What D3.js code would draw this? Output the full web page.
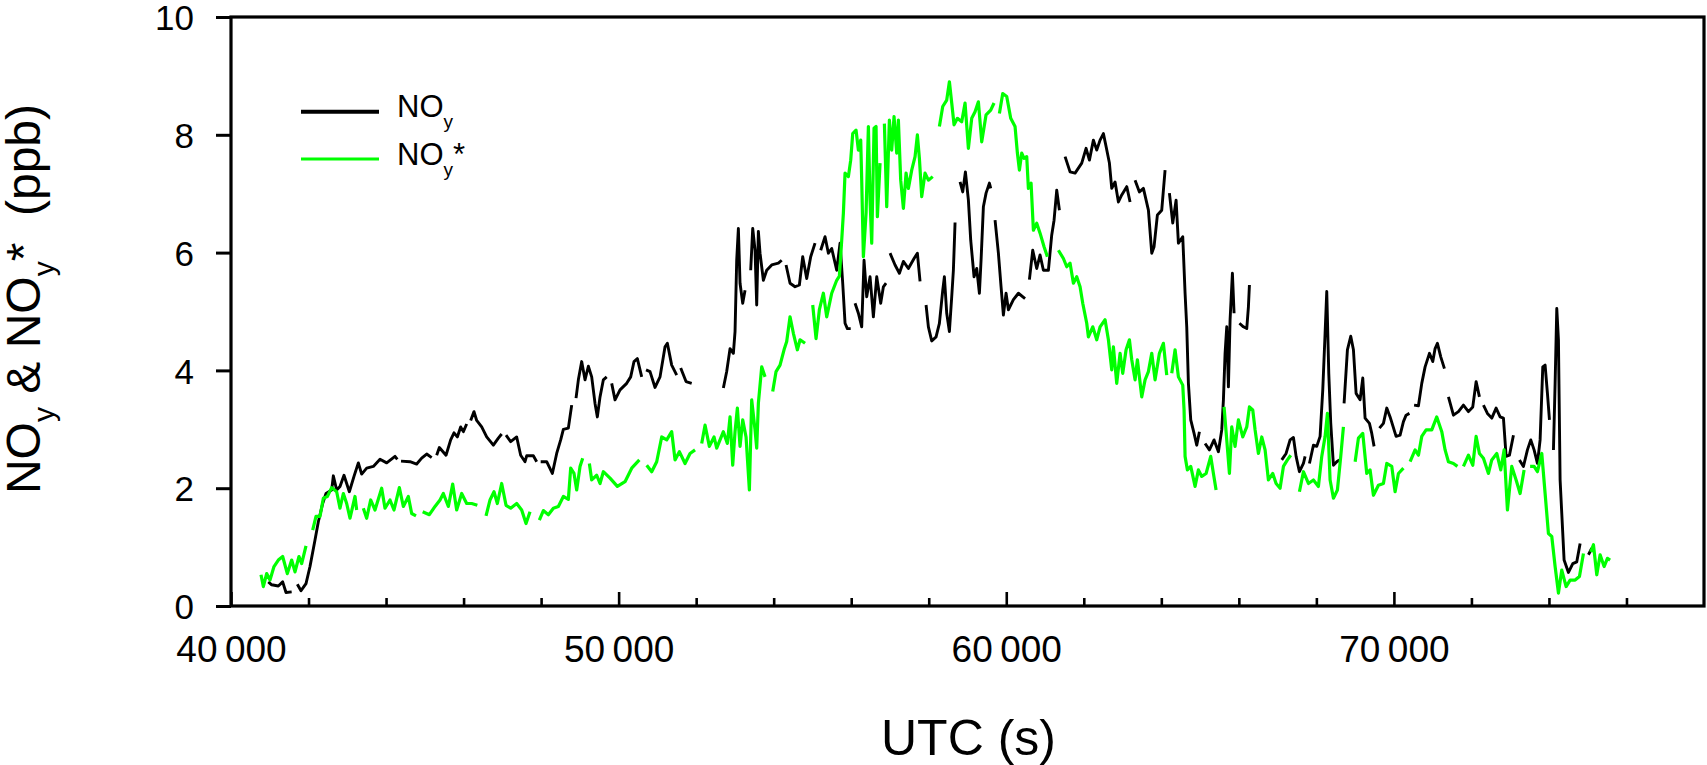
<!DOCTYPE html>
<html>
<head>
<meta charset="utf-8">
<script src="https://cdn.jsdelivr.net/npm/d3@7"></script>
<style>
body { margin: 0; background: #fff; }
text { font-family: Arial, "Liberation Sans", sans-serif; fill: #000; }
</style>
</head>
<body>
<svg id="chart" width="1707" height="765"></svg>
<script>
// NOy (black) : UTC seconds and ppb, null = gap in the record
var noyTime = [
    40963,41049,41221,41333,41419,41565,41640,
    41711,41806,41935,42038,42167,42253,42365,42451,42597,42640,42726,42812,42915,42984,43053,43173,43285,43371,43500,43672,43844,44016,44231,44291,44340,
    44386,44618,44790,44919,45048,45177,45240,
    45306,45375,45547,45667,45753,45839,45925,45994,46080,46130,
    46183,46269,46338,46467,46596,46768,46897,46983,47040,
    47095,47215,47370,47473,47585,47628,47800,47886,47940,
    47989,48144,48290,48402,48505,48574,48703,48789,48845,
    48901,48961,49047,49133,49219,49305,49391,49451,49520,49606,49692,49760,
    49821,49907,50036,50208,50311,50397,50483,50595,50650,
    50707,50810,50939,51068,51197,51257,51369,51498,51550,
    51601,51739,51885,52300,
    52702,52788,52874,52960,53003,53046,53089,53132,53201,53261,53330,
    53407,53459,53519,53562,53605,53648,53734,53820,53949,54121,54207,54260,
    54319,54422,54551,54663,54749,54852,54955,55067,55140,
    55213,55325,55411,55497,55626,55712,55781,55841,55901,55987,56040,
    56099,56185,56271,56331,56400,56486,56572,56658,56761,56830,56899,56950,
    57002,57131,57243,57346,57475,57621,57707,57776,57850,
    57931,57991,58077,58189,58275,58361,58404,58464,58533,58593,58636,58679,58740,
    58808,58877,58946,59023,59083,59169,59238,59307,59350,59410,59479,59565,59599,59650,
    59711,59797,59866,59926,59995,60055,60184,60313,60485,60540,
    60597,60683,60786,60872,60958,61087,61173,61233,61302,61371,61440,
    61517,61646,61775,61947,62059,62145,62248,62334,62420,62506,62575,62661,62721,62807,62893,62979,63108,63194,63260,
    63323,63435,63538,63667,63753,63813,63899,64011,64097,64150,
    64209,64295,64381,64441,64553,64613,64656,64699,64759,64845,64914,64983,65050,
    65129,65241,65361,65473,65559,65602,65645,65688,65731,65774,65834,65877,65950,
    66015,66118,66204,66247,66273,66700,
    67107,67219,67322,67408,67477,67563,67666,67709,67760,
    67821,67924,68010,68096,68165,68225,68268,68320,68371,68440,68526,68595,68650,
    68715,68801,68887,68956,69025,69128,69197,69257,69369,69429,69489,69560,
    69627,69730,69816,69902,70057,70160,70246,70315,70401,70460,
    70521,70633,70719,70805,70917,71003,71063,71123,71209,71304,71350,
    71407,71536,71665,71794,71923,72035,72121,72207,72260,
    72310,72413,72525,72637,72740,72826,72895,72981,73084,73160,
    73239,73342,73445,73531,73617,73703,73772,73841,73901,73961,74013,74060,
    74116,74159,74202,74245,74288,74331,74391,74503,74615,74718,74804,74900,
    75019,75105
];
var noyValue = [
    .41,.36,.34,.41,.23,.24,null,
    .37,.26,.38,.67,1.12,1.43,1.74,1.91,1.97,2.21,1.97,2.03,2.22,2.08,1.94,2.20,2.43,2.24,2.34,2.37,2.49,2.43,2.54,2.49,null,
    2.46,2.45,2.41,2.51,2.58,2.52,null,
    2.56,2.69,2.56,2.82,2.94,2.87,3.04,2.96,3.09,null,
    3.15,3.30,3.15,3.04,2.87,2.73,2.85,2.92,null,
    2.90,2.79,2.87,2.56,2.45,2.55,2.55,2.45,null,
    2.45,2.45,2.25,2.59,2.82,3.00,3.02,3.41,null,
    3.53,3.84,4.15,3.84,4.07,3.89,3.44,3.21,3.55,3.84,3.89,null,
    3.78,3.50,3.67,3.78,3.89,4.15,4.20,3.89,null,
    4.01,3.98,3.71,3.89,4.40,4.46,4.09,3.92,null,
    4.04,3.81,3.78,null,
    3.70,3.98,4.37,4.29,4.66,5.87,6.41,5.48,5.14,5.36,null,
    5.70,6.41,6.04,5.11,6.36,5.99,5.53,5.70,5.79,5.82,5.87,null,
    5.79,5.48,5.42,5.45,5.93,5.56,5.93,6.16,null,
    6.04,6.27,5.99,6.07,5.70,6.16,5.48,4.80,4.71,4.71,null,
    5.14,4.97,4.74,5.87,5.25,5.59,4.91,5.59,5.14,5.42,5.48,null,
    5.99,5.79,5.65,5.85,5.73,5.90,5.99,5.51,null,
    5.11,4.74,4.50,4.57,4.80,5.36,5.59,4.97,4.66,5.25,5.70,6.51,null,
    7.20,7.03,7.37,6.89,6.21,5.59,5.73,5.31,5.87,6.78,7.01,7.18,7.09,null,
    6.55,5.99,5.42,4.94,5.31,5.03,5.20,5.31,5.22,null,
    5.54,6.04,5.73,5.96,5.70,5.70,6.30,6.55,7.06,6.72,null,
    7.63,7.37,7.35,7.52,7.77,7.57,7.91,7.74,7.91,8.02,7.80,7.52,7.09,7.20,6.86,6.98,7.12,6.86,null,
    7.23,7.03,7.09,6.72,5.99,6.10,6.64,6.72,7.40,null,
    7.01,6.50,6.89,6.16,6.27,5.31,4.74,3.78,3.16,2.93,2.73,2.96,null,
    2.76,2.65,2.82,2.62,2.99,3.50,4.29,4.74,3.72,4.86,5.65,4.97,null,
    4.80,4.74,4.71,5.08,5.45,null,
    2.48,2.59,2.82,2.86,2.54,2.28,2.42,2.54,null,
    2.42,2.73,2.71,2.88,3.67,4.63,5.34,3.95,3.10,2.39,2.45,2.48,null,
    3.44,4.35,4.58,4.35,3.61,3.50,3.87,3.19,3.10,2.93,2.71,null,
    3.02,3.10,3.36,3.21,2.88,2.90,3.13,3.24,3.27,null,
    3.41,3.40,3.78,4.06,4.29,4.15,4.37,4.46,4.23,4.03,null,
    3.55,3.24,3.30,3.41,3.30,3.38,3.81,3.55,null,
    3.41,3.27,3.19,3.36,3.21,3.19,2.54,2.56,2.90,null,
    2.48,2.37,2.65,2.82,2.65,2.42,2.82,4.06,4.09,3.61,3.16,null,
    2.65,3.78,5.05,4.52,2.14,1.57,0.78,0.57,0.72,0.75,1.06,null,
    0.87,0.98
];

// NOy* (green)
var noyStarTime = [
    40774,40834,40920,41006,41109,41221,41333,41453,41565,41651,41754,41823,41935,42020,
    42107,42193,42296,42382,42485,42597,42726,42812,42898,42984,43070,43199,43242,43330,
    43414,43500,43603,43715,43887,43973,44102,44205,44343,44446,44575,44661,44773,44860,
    44945,45117,45263,45392,45478,45607,45719,45822,45951,46080,46209,46355,46470,
    46579,46682,46785,46871,46983,47095,47215,47370,47499,47611,47714,47830,
    47955,48058,48187,48316,48445,48574,48703,48763,48849,48918,49004,49073,49160,
    49245,49305,49434,49520,49606,49778,49967,50165,50337,50535,50630,
    50724,50853,50982,51111,51240,51369,51455,51567,51713,51842,51971,52060,
    52143,52229,52341,52461,52530,52702,52805,52874,52943,53003,53063,53132,53201,53287,53373,53433,53519,53562,53605,53691,53777,53880,
    53975,54061,54164,54267,54336,54422,54508,54611,54680,54809,54910,
    55007,55093,55179,55282,55368,55497,55626,55695,55755,55798,55841,55927,55987,56039,56125,56185,56245,56271,56314,56383,56443,56486,56529,56589,56641,56675,56744,56800,
    56856,56916,56985,57045,57105,57174,57217,57277,57346,57415,57475,57561,57647,57707,57759,57819,57905,57991,58103,58190,
    58275,58361,58464,58533,58593,58653,58739,58851,58937,59023,59109,59195,59281,59367,59479,59599,59685,59750,
    59823,59909,60012,60115,60227,60287,60339,60399,60459,60528,60571,60640,60700,60786,60872,60975,61061,61200,
    61345,61474,61560,61646,61732,61818,61904,61973,62076,62119,62231,62334,62420,62549,62635,62721,62764,62850,62936,63005,63091,63177,63237,63323,63383,63495,63581,63667,63753,63839,63951,64054,64140,64200,
    64269,64355,64441,64553,64587,64613,64673,64759,64871,64957,65043,65155,65275,65344,65413,65520,
    65619,65688,65757,65817,65903,65989,66101,66204,66273,66359,66419,66505,66591,66677,66763,66875,66961,67064,67150,67253,67339,67450,
    67563,67666,67795,67924,68053,68139,68225,68285,68354,68440,68543,68629,68698,68850,
    69000,69085,69197,69300,69386,69472,69601,69730,69816,69945,70031,70117,70246,70330,
    70418,70547,70633,70719,70831,70977,71106,71235,71321,71407,71536,71639,71720,
    71794,71923,72035,72121,72207,72310,72439,72525,72654,72757,72843,72929,73041,73153,73256,73359,73440,
    73514,73617,73703,73815,73901,73987,74073,74159,74245,74331,74443,74546,74675,74787,74890,74980,
    75079,75148,75234,75320,75423,75509,75578
];
var noyStarValue = [
    .53,.33,.55,.44,.67,.78,.84,.55,.78,.58,.84,.72,1.02,null,
    1.29,1.52,1.52,1.83,1.86,2.01,1.94,1.66,1.91,1.74,1.49,1.86,1.63,null,
    1.66,1.49,1.80,1.63,2.00,1.66,1.80,1.63,2.01,1.69,1.86,1.57,1.53,null,
    1.60,1.55,1.69,1.80,1.91,1.69,2.07,1.63,1.91,1.74,1.74,1.71,null,
    1.53,1.80,1.94,1.74,2.08,1.71,1.66,1.74,1.63,1.40,1.60,null,
    1.46,1.62,1.55,1.66,1.69,1.86,1.81,2.34,2.25,1.97,2.37,2.51,null,
    2.42,2.14,2.22,2.08,2.28,2.17,2.03,2.11,2.34,2.48,null,
    2.39,2.28,2.45,2.87,2.82,2.96,2.48,2.62,2.42,2.59,2.65,null,
    2.76,3.07,2.71,2.87,2.68,2.96,2.76,3.21,2.39,2.96,3.36,2.71,3.16,2.87,1.97,3.50,2.99,2.68,3.44,4.06,3.89,null,
    3.64,3.98,4.09,4.35,4.49,4.91,4.63,4.35,4.52,4.46,null,
    5.11,4.54,5.03,5.31,4.91,5.31,5.53,5.60,6.21,6.67,7.35,7.29,7.57,8.02,8.08,7.74,7.91,7.23,5.93,6.67,8.14,6.89,6.16,8.11,8.14,6.61,7.52,null,
    8.19,6.78,8.25,7.74,8.31,7.69,8.25,7.23,6.75,7.35,7.09,7.40,7.63,8.00,7.60,6.95,7.35,7.23,7.29,null,
    8.14,8.48,8.59,8.90,8.54,8.17,8.28,8.22,8.54,7.77,8.28,8.39,8.56,7.88,8.34,8.42,8.54,null,
    8.36,8.70,8.65,8.28,8.14,7.69,7.40,7.69,7.60,7.63,7.09,7.18,6.38,6.50,6.33,6.10,5.93,null,
    6.04,5.90,5.76,5.82,5.48,5.59,5.42,5.14,4.80,4.57,4.74,4.52,4.74,4.86,4.52,4.01,4.40,3.78,4.29,3.95,4.35,4.52,4.18,3.84,4.18,3.55,3.84,3.98,4.29,3.84,4.29,4.46,3.92,null,
    3.95,4.35,3.89,3.75,3.33,2.54,2.31,2.37,2.03,2.31,2.20,2.25,2.54,2.25,1.97,null,
    3.38,2.82,2.25,3.04,2.71,3.16,2.87,3.04,3.38,3.33,2.99,2.59,2.87,2.65,2.14,2.25,2.08,2.00,2.37,2.48,2.56,null,
    1.94,2.28,2.08,2.14,2.03,2.54,2.88,3.27,2.14,1.83,1.97,2.54,3.04,null,
    2.45,2.85,2.93,2.25,2.31,1.88,2.05,2.08,2.42,2.37,1.94,2.25,2.34,null,
    2.45,2.65,2.56,2.88,2.99,2.99,3.21,2.96,2.65,2.45,2.42,2.37,null,
    2.37,2.56,2.39,2.88,2.59,2.51,2.25,2.48,2.59,2.31,2.65,1.63,2.37,2.14,1.91,2.31,null,
    2.37,2.37,2.28,2.59,1.91,1.23,1.18,0.67,0.22,0.61,0.33,0.44,0.44,0.50,0.89,null,
    0.92,1.04,0.53,0.87,0.67,0.81,0.78
];

var xMajorTicks = [40000, 50000, 60000, 70000];
var xMinorTicks = [42000, 44000, 46000, 48000, 52000, 54000, 56000, 58000, 62000, 64000, 66000, 68000, 72000, 74000, 76000];
var yTicks = [0, 2, 4, 6, 8, 10];

var svg = d3.select("#chart"),
    plotLeft = 231, plotRight = 1704, plotTop = 17, plotBottom = 606;

var x = d3.scaleLinear().domain([40000, 78000]).range([plotLeft, plotRight]);
var y = d3.scaleLinear().domain([0, 10]).range([plotBottom, plotTop]);

// thin space as thousands separator, like "40 000"
var fmt = d3.formatLocale({ decimal: ".", thousands: "\u2009", grouping: [3], currency: ["", ""] }).format(",");

function toPoints(times, values) {
    return times.map(function (t, i) { return { t: t, v: values[i] }; });
}

var line = d3.line()
    .defined(function (d) { return d.v != null; })
    .x(function (d) { return x(d.t); })
    .y(function (d) { return y(d.v); });

// data lines
svg.append("path")
    .datum(toPoints(noyTime, noyValue))
    .attr("fill", "none")
    .attr("stroke", "#000")
    .attr("stroke-width", 2.9)
    .attr("stroke-linejoin", "round")
    .attr("d", line);

svg.append("path")
    .datum(toPoints(noyStarTime, noyStarValue))
    .attr("fill", "none")
    .attr("stroke", "#00ff00")
    .attr("stroke-width", 3.2)
    .attr("stroke-linejoin", "round")
    .attr("d", line);

// y axis, ticks outward
var yAxis = svg.append("g")
    .attr("transform", "translate(" + plotLeft + ",0)")
    .call(d3.axisLeft(y).tickValues(yTicks).tickSize(15).tickPadding(22).tickFormat(d3.format("d")));
yAxis.select(".domain").remove();
yAxis.selectAll("line").attr("stroke-width", 3);
yAxis.selectAll("text").attr("font-size", 35).attr("dy", "0.36em").style("font-family", "Arial, 'Liberation Sans', sans-serif");

// x axis, ticks inward
var xAxis = svg.append("g")
    .attr("transform", "translate(0," + plotBottom + ")")
    .call(d3.axisBottom(x).tickValues(xMajorTicks).tickSizeInner(-14).tickSizeOuter(0).tickPadding(30).tickFormat(fmt));
xAxis.select(".domain").remove();
xAxis.selectAll("line").attr("stroke-width", 2.6);
xAxis.selectAll("text").attr("font-size", 37).style("font-family", "Arial, 'Liberation Sans', sans-serif");

var xMinor = svg.append("g")
    .attr("transform", "translate(0," + plotBottom + ")")
    .call(d3.axisBottom(x).tickValues(xMinorTicks).tickSizeInner(-8).tickSizeOuter(0).tickFormat(""));
xMinor.select(".domain").remove();
xMinor.selectAll("line").attr("stroke-width", 2.6);

// frame
svg.append("rect")
    .attr("x", plotLeft)
    .attr("y", plotTop)
    .attr("width", plotRight - plotLeft)
    .attr("height", plotBottom - plotTop)
    .attr("fill", "none")
    .attr("stroke", "#000")
    .attr("stroke-width", 3.2);

// axis titles
svg.append("text")
    .attr("x", (plotLeft + plotRight) / 2 + 1)
    .attr("y", 755)
    .attr("text-anchor", "middle")
    .attr("font-size", 50)
    .text("UTC (s)");

var yTitle = svg.append("text")
    .attr("transform", "translate(40,299) rotate(-90)")
    .attr("text-anchor", "middle")
    .attr("font-size", 48)
    .attr("xml:space", "preserve")
    .style("white-space", "pre");
yTitle.append("tspan").text("NO");
yTitle.append("tspan").attr("font-size", 30).attr("dy", 14).text("y");
yTitle.append("tspan").attr("dy", -14).text(" & NO");
yTitle.append("tspan").attr("font-size", 30).attr("dy", 14).text("y");
yTitle.append("tspan").attr("dy", -14).text("*  (ppb)");

// legend
var legend = svg.append("g");
var legendItems = [
    { color: "#000", width: 4, y: 111.7, base: 117.3, star: false },
    { color: "#00ff00", width: 3, y: 159, base: 165, star: true }
];
legendItems.forEach(function (d) {
    legend.append("line")
        .attr("x1", 301).attr("x2", 379)
        .attr("y1", d.y).attr("y2", d.y)
        .attr("stroke", d.color)
        .attr("stroke-width", d.width);
    var t = legend.append("text")
        .attr("x", 397)
        .attr("y", d.base)
        .attr("font-size", 31);
    t.append("tspan").text("NO");
    t.append("tspan").attr("font-size", 19).attr("dy", 10.5).text("y");
    if (d.star) t.append("tspan").attr("dy", -10.5).text("*");
});
</script>
</body>
</html>
